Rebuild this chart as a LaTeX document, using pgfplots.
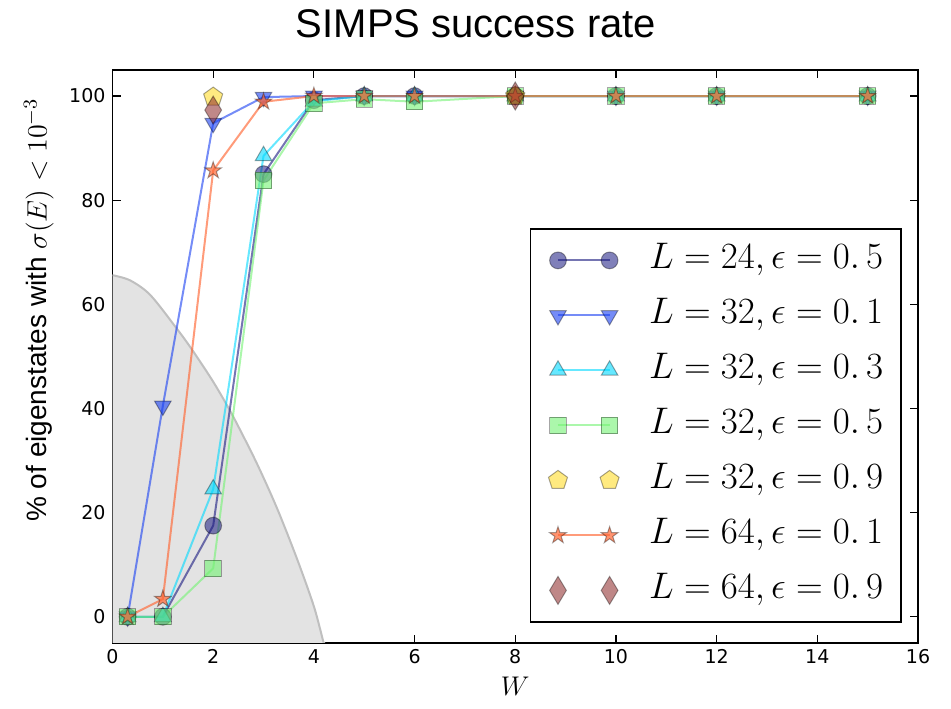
\RequirePackage{fix-cm}
\documentclass[border=0pt]{standalone}
\usepackage{fontspec}
\setmainfont{Liberation Sans}
\newfontfamily\tickfont{DejaVu Sans}
\usepackage{pgfplots}
\pgfplotsset{compat=1.18}

\definecolor{cnavy}{rgb}{0.1,0.1,0.5}
\definecolor{cblue}{rgb}{0.1,0.25,0.95}
\definecolor{ccyan}{rgb}{0.0,0.85,1.0}
\definecolor{cgreen}{rgb}{0.45,0.95,0.45}
\definecolor{cyellow}{rgb}{1.0,0.85,0.1}
\definecolor{corange}{rgb}{1.0,0.4,0.2}
\definecolor{cbrown}{rgb}{0.55,0.15,0.15}

\pgfdeclareplotmark{fstar}{%
  \pgfpathmoveto{\pgfpointpolar{90}{\pgfplotmarksize}}%
  \pgfpathlineto{\pgfpointpolar{126}{0.382\pgfplotmarksize}}%
  \pgfpathlineto{\pgfpointpolar{162}{\pgfplotmarksize}}%
  \pgfpathlineto{\pgfpointpolar{198}{0.382\pgfplotmarksize}}%
  \pgfpathlineto{\pgfpointpolar{234}{\pgfplotmarksize}}%
  \pgfpathlineto{\pgfpointpolar{270}{0.382\pgfplotmarksize}}%
  \pgfpathlineto{\pgfpointpolar{306}{\pgfplotmarksize}}%
  \pgfpathlineto{\pgfpointpolar{342}{0.382\pgfplotmarksize}}%
  \pgfpathlineto{\pgfpointpolar{18}{\pgfplotmarksize}}%
  \pgfpathlineto{\pgfpointpolar{54}{0.382\pgfplotmarksize}}%
  \pgfpathclose
  \pgfusepathqfillstroke}

\begin{document}
\begin{tikzpicture}
\useasboundingbox (-56.25pt,-32.65pt) rectangle (419.25pt,321.4pt);
\begin{axis}[
  at={(0pt,0pt)}, anchor=south west,
  scale only axis, width=402.75pt, height=286.4pt,
  xmin=0, xmax=16, ymin=-5, ymax=105,
  xtick={0,2,...,16}, ytick={0,20,...,100},
  tick align=inside, major tick length=4pt,
  axis line style={line width=0.8pt},
  every tick/.style={black, line width=0.6pt},
  /pgf/number format/assume math mode=true,
  ticklabel style={font=\tickfont\fontsize{9.5}{11}\selectfont},
  legend image code/.code={\draw[mark repeat=2,mark phase=1,#1] plot coordinates {(0pt,0pt) (12.9pt,0pt) (25.8pt,0pt)};},
  legend style={at={(0.980,0.724)}, anchor=north east, draw=black, line width=0.8pt,
    font=\fontsize{18.5}{21}\selectfont, row sep=10pt, column sep=15pt,
    inner xsep=9pt, inner ysep=7pt,
    nodes={inner sep=0pt, text height=13pt, text depth=4.5pt}},
  legend cell align=left,
  clip=true,
]
% shaded region
\addplot[draw=none, fill=black!11, forget plot, smooth, tension=0.5] coordinates {
  (0,65.6) (0.35,64.6) (0.75,61.8) (1.28,55.3) (1.58,51.3) (1.97,45.6)
  (2.24,41.2) (2.47,37.1) (2.87,29.4) (3.27,20.8) (3.67,11.0) (4.0,2.0)
  (4.18,-4.5) (4.25,-7) (0,-7)};
\addplot[draw=black!25, line width=1pt, forget plot, smooth, tension=0.5] coordinates {
  (0,65.6) (0.35,64.6) (0.75,61.8) (1.28,55.3) (1.58,51.3) (1.97,45.6)
  (2.24,41.2) (2.47,37.1) (2.87,29.4) (3.27,20.8) (3.67,11.0) (4.0,2.0)
  (4.18,-4.5) (4.25,-7)};

% L=24, eps=0.5
\addplot[color=cnavy, draw opacity=0.6, line width=1pt, mark=*, mark size=4.2pt,
  mark options={fill=cnavy, fill opacity=0.55, draw=black, draw opacity=0.35, line width=0.5pt}]
  coordinates {(0.3,0) (1,0) (2,17.5) (3,85) (4,99.2) (5,100) (6,100) (8,100) (10,100) (12,100) (15,100)};
\addlegendentry{$L=24, \epsilon=0.\,5$}

% L=32, eps=0.1
\addplot[color=cblue, draw opacity=0.6, line width=1pt, mark=triangle*, mark size=4.8pt,
  mark options={rotate=180, fill=cblue, fill opacity=0.6, draw=black, draw opacity=0.35, line width=0.5pt}]
  coordinates {(0.3,0) (1,40.5) (2,94.8) (3,99.8) (4,100) (5,100) (6,100) (8,100) (10,100) (12,100) (15,100)};
\addlegendentry{$L=32, \epsilon=0.\,1$}

% L=32, eps=0.3
\addplot[color=ccyan, draw opacity=0.6, line width=1pt, mark=triangle*, mark size=4.8pt,
  mark options={fill=ccyan, fill opacity=0.6, draw=black, draw opacity=0.35, line width=0.5pt}]
  coordinates {(0.3,0) (1,0) (2,24.5) (3,88.5) (4,99) (5,100) (6,100) (8,100) (10,100) (12,100) (15,100)};
\addlegendentry{$L=32, \epsilon=0.\,3$}

% L=32, eps=0.5
\addplot[color=cgreen, draw opacity=0.6, line width=1pt, mark=square*, mark size=4.1pt,
  mark options={fill=cgreen, fill opacity=0.6, draw=black, draw opacity=0.35, line width=0.5pt}]
  coordinates {(0.3,0) (1,0) (2,9.3) (3,83.8) (4,98.6) (5,99.4) (6,98.9) (8,100) (10,100) (12,100) (15,100)};
\addlegendentry{$L=32, \epsilon=0.\,5$}

% L=32, eps=0.9
\addplot[color=cyellow, only marks, mark=pentagon*, mark size=5pt,
  mark options={fill=cyellow, fill opacity=0.55, draw=black, draw opacity=0.35, line width=0.5pt}]
  coordinates {(2,99.8) (8,100)};
\addlegendentry{$L=32, \epsilon=0.\,9$}

% L=64, eps=0.1
\addplot[color=corange, draw opacity=0.65, line width=1pt, mark=fstar, mark size=4.4pt,
  mark options={fill=corange, fill opacity=0.7, draw=black, draw opacity=0.35, line width=0.5pt}]
  coordinates {(0.3,0) (1,3.4) (2,85.7) (3,98.9) (4,100) (5,100) (6,100) (8,100) (10,100) (12,100) (15,100)};
\addlegendentry{$L=64, \epsilon=0.\,1$}

% L=64, eps=0.9
\addplot[color=cbrown, only marks, mark=diamond*, mark size=7pt,
  mark options={xscale=0.8, fill=cbrown, fill opacity=0.55, draw=black, draw opacity=0.35, line width=0.5pt}]
  coordinates {(2,97.3) (8,100)};
\addlegendentry{$L=64, \epsilon=0.\,9$}
\end{axis}
\node[anchor=base, font=\fontsize{20}{24}\selectfont] at (181.75pt,302.7pt) {SIMPS success rate};
\node[rotate=90, anchor=base, font=\fontsize{14}{16}\selectfont] at (-32.9pt,166.35pt) {\% of eigenstates with $\sigma(E) < 10^{-3}$};
\node[anchor=base, font=\fontsize{13.5}{16}\selectfont] at (201.4pt,-26.5pt) {$W$};
\end{tikzpicture}
\end{document}
